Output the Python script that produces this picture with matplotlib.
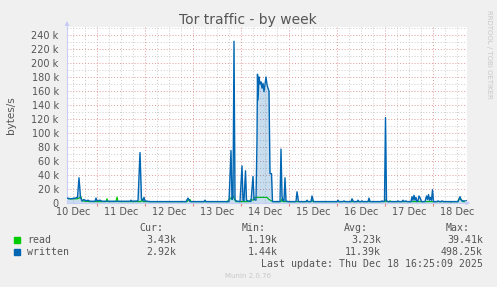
import matplotlib.pyplot as plt

# time axis in hours since 10 Dec 00:00 (one pixel of the original = 30 min)
written_h = [9.0, 11.0, 13.0, 14.25, 15.0, 15.75, 16.5, 17.5, 18.5, 19.5, 20.5, 23.0, 23.5, 24.0,
             25.5, 26.5, 40.5, 41.0, 41.5, 44.5, 45.5, 46.25, 47.0, 47.5, 48.0, 50.5, 68.5, 69.5,
             70.5, 77.5, 78.0, 78.5, 90.0, 91.0, 91.5, 92.0, 92.5, 93.0, 93.5, 95.5, 96.5, 97.0,
             97.5, 98.25, 98.75, 99.5, 101.0, 102.0, 102.5, 103.5, 104.0, 104.25, 104.5, 105.0,
             105.5, 106.0, 106.5, 107.0, 107.5, 108.0, 108.5, 109.0, 109.5, 110.0, 110.5, 111.25,
             111.75, 115.5, 116.0, 116.5, 117.0, 117.5, 118.0, 118.5, 119.5, 123.5, 124.0, 124.75,
             128.5, 129.0, 129.5, 131.0, 131.5, 132.25, 144.0, 144.5, 145.0, 147.0, 147.5, 148.0,
             151.0, 151.5, 152.25, 154.0, 154.5, 155.0, 156.0, 156.5, 157.0, 159.5, 160.0, 160.5,
             166.0, 166.5, 167.0, 167.75, 168.25, 168.75, 169.5, 174.0, 174.5, 175.0, 176.5, 177.0,
             177.5, 178.5, 179.0, 181.0, 181.5, 182.0, 182.5, 183.0, 183.5, 184.0, 184.5, 185.0,
             185.75, 186.25, 188.0, 188.75, 189.25, 189.75, 190.25, 190.75, 191.25, 191.75, 192.25,
             194.0, 194.5, 195.25, 196.0, 196.5, 197.25, 204.5, 205.5, 206.0, 206.5, 209.0]
written_k = [7, 6, 7, 8, 36, 8, 3, 5, 3, 4, 2.5, 2.5, 7, 3,
             4, 2.5, 2.5, 4, 2.5, 3, 72, 6, 3, 8, 3, 2, 2, 7,
             2, 2, 4, 2, 2, 75, 5, 8, 231, 5, 3, 2, 53, 4,
             3, 46, 4, 3, 2, 38, 5, 4, 90, 184, 147, 180,
             170, 173, 164, 171, 159, 170, 180, 169, 164, 160, 42, 42,
             2, 2, 77, 10, 3, 3, 36, 3, 2, 2, 16, 2,
             2, 4, 2, 2, 10, 2, 2, 4, 2, 2, 3, 2,
             2, 6, 2, 2, 4, 2, 2, 3, 2, 2, 7, 2,
             2, 3, 2, 3, 122, 3, 2, 2, 3, 2, 2, 4,
             2, 3, 2, 2, 9, 4, 11, 4, 8, 2, 3, 10,
             6, 2, 2, 10, 5, 12, 4, 8, 4, 19, 2,
             2, 3, 2, 2, 3, 2, 2, 9, 5, 3, 3]

read_h = [9.0, 14.0, 15.0, 16.0, 16.5, 20.5, 28.5, 29.0, 29.5, 33.5, 34.0, 34.5, 46.0, 46.5,
          47.0, 69.0, 69.5, 70.5, 71.0, 88.5, 89.0, 90.0, 91.0, 92.0, 93.0, 93.5, 100.0, 101.0,
          102.0, 103.0, 109.0, 110.0, 111.25, 112.0, 116.0, 116.5, 117.0, 131.0, 131.5, 132.0,
          168.0, 168.5, 169.0, 170.0, 170.5, 171.0, 200.5, 201.0, 201.5, 204.5, 205.0, 206.0,
          207.0, 208.5, 209.0]
read_k = [6, 6, 7, 9, 3, 2, 2, 6, 2, 2, 8.5, 2, 2, 6,
          2, 2, 4, 5, 2, 2, 1.5, 5, 7, 10, 4, 2, 2, 5,
          4, 8, 8, 5, 3, 2, 2, 6, 2, 2, 4, 2,
          2, 5, 2, 2, 3, 2, 2, 1.2, 2, 2, 6, 5,
          2, 2, 3.4]

day_labels = ['10 Dec', '11 Dec', '12 Dec', '13 Dec', '14 Dec', '15 Dec', '16 Dec', '17 Dec', '18 Dec']
series_names = ['read', 'written']
series_colors = ['#00cc00', '#0066b3']
cur_vals = ['3.43k', '2.92k']
min_vals = ['1.19k', '1.44k']
avg_vals = ['3.23k', '11.39k']
max_vals = ['39.41k', '498.25k']

W, H = 497, 287
TXT = '#555555'
AXC = '#c8ccf8'

def fx(x):
    return x / W

def fy(y):
    return 1 - y / H

fig = plt.figure(figsize=(W / 100, H / 100), dpi=100, facecolor='#f0f0f0')
ax = fig.add_axes([fx(67), fy(203), (467 - 67) / W, (203 - 27) / H])
ax.set_facecolor('white')
ax.set_xlim(9, 209)
ax.set_ylim(0, 251.4)

# grid: grey every 6h / 10k, red at midnight / 20k
for h in range(12, 209, 6):
    if h % 24:
        ax.axvline(h, color='#cccccc', lw=0.7, ls=(0, (1, 2)), zorder=0)
for h in range(24, 209, 24):
    ax.axvline(h, color='#e09a9a', lw=0.7, ls=(0, (1, 2)), zorder=0)
for v in range(10, 251, 10):
    c = '#e09a9a' if v % 20 == 0 else '#cccccc'
    ax.axhline(v, color=c, lw=0.7, ls=(0, (1, 2)), zorder=0)

ax.plot(read_h, read_k, color=series_colors[0], lw=0.9, zorder=2)
ax.fill_between(written_h, written_k, 0, color=series_colors[1], alpha=0.22, lw=0, zorder=2)
ax.plot(written_h, written_k, color=series_colors[1], lw=1.0, zorder=3)

for s in ['top', 'right']:
    ax.spines[s].set_visible(False)
for s in ['left', 'bottom']:
    ax.spines[s].set_color(AXC)
    ax.spines[s].set_linewidth(0.8)
ax.annotate('', xy=(0, 1.05), xytext=(0, 0.99), xycoords='axes fraction',
            arrowprops=dict(arrowstyle='-|>', color=AXC, lw=0.8, mutation_scale=6))
ax.annotate('', xy=(1.015, 0), xytext=(0.99, 0), xycoords='axes fraction',
            arrowprops=dict(arrowstyle='-|>', color=AXC, lw=0.8, mutation_scale=6))

ax.set_yticks(range(0, 241, 20), ['0'] + ['%d k' % v for v in range(20, 241, 20)])
ax.tick_params(axis='y', length=0, pad=6, labelsize=7, labelcolor=TXT)
ax.set_xticks(range(24, 209, 24), [''] * 8)
ax.tick_params(axis='x', which='major', length=2, color='#e08080', direction='out')
ax.set_xticks(range(12, 209, 24), day_labels, minor=True)
ax.tick_params(axis='x', which='minor', length=0, pad=3, labelsize=7, labelcolor=TXT)

fig.text(fx(248), fy(24), 'Tor traffic - by week', ha='center', va='baseline', fontsize=10, color=TXT)
fig.text(fx(11), fy(115), 'bytes/s', rotation=90, ha='center', va='center', fontsize=7.5, color=TXT)
fig.text(fx(489), fy(54), 'RRDTOOL / TOBI OETIKER', rotation=270, ha='center', va='center',
         fontsize=5, color='#c8c8c8')

mono = dict(family='DejaVu Sans Mono', fontsize=7.1, color=TXT, va='center')
for x, lab in [(163, 'Cur:'), (266, 'Min:'), (368, 'Avg:'), (470, 'Max:')]:
    fig.text(fx(x), fy(228), lab, ha='right', **mono)
for i, name in enumerate(series_names):
    y = 240 + 12 * i
    fig.patches.append(plt.Rectangle((fx(14), fy(y + 3)), 6 / W, 6 / H, color=series_colors[i],
                                     transform=fig.transFigure, figure=fig))
    fig.text(fx(27), fy(y), name, ha='left', **mono)
    for x, vals in [(176, cur_vals), (278, min_vals), (381, avg_vals), (483, max_vals)]:
        fig.text(fx(x), fy(y), vals[i], ha='right', **mono)
fig.text(fx(483), fy(264), 'Last update: Thu Dec 18 16:25:09 2025', ha='right', **mono)
fig.text(fx(248), fy(276), 'Munin 2.0.76', ha='center', va='center', fontsize=5, color='#c8c8c8')

fig.savefig('out.png', dpi=100, facecolor=fig.get_facecolor())
